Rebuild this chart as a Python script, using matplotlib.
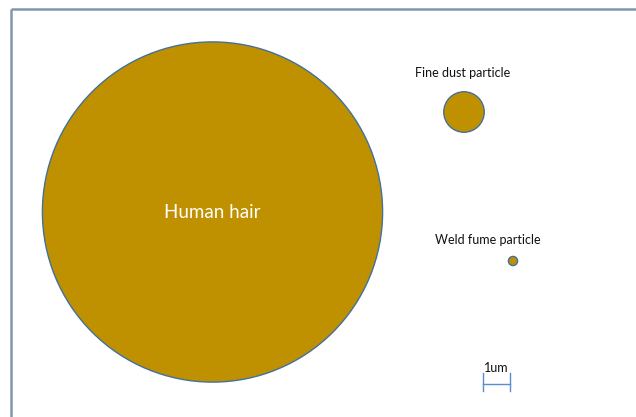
import matplotlib
matplotlib.use("Agg")
import matplotlib.pyplot as plt
from matplotlib.patches import Circle

names = ["Human hair", "Fine dust particle", "Weld fume particle"]
diameters_um = [12.6, 1.5, 0.34]
scale_um = 1.0
scale_label = "1um"

PX = 27.0  # pixels per um in the picture
W, H = 636, 417
FILL = "#BF9000"
EDGE = "#41719C"
FRAME = "#8196B0"

plt.rcParams["font.family"] = ["Lato", "DejaVu Sans"]

fig = plt.figure(figsize=(W / 100, H / 100), dpi=100)
ax = fig.add_axes([0, 0, 1, 1])
ax.set_xlim(0, W / PX)
ax.set_ylim(H / PX, 0)
ax.set_aspect("equal")
ax.axis("off")

# centres (um) and label anchors, layout only
centres = [(212.5 / PX, 212 / PX), (464 / PX, 112 / PX), (513 / PX, 261 / PX)]
for i, (name, d) in enumerate(zip(names, diameters_um)):
    cx, cy = centres[i]
    ax.add_patch(Circle((cx, cy), d / 2, facecolor=FILL, edgecolor=EDGE,
                        lw=1.0, zorder=2))
    if i == 0:
        ax.text(cx, cy, name, color="white", fontsize=13.5,
                ha="center", va="center", zorder=3)

ax.text(463 / PX, 73 / PX, names[1], fontsize=9, color="#111111",
        ha="center", va="center")
ax.text(488 / PX, 240 / PX, names[2], fontsize=9, color="#111111",
        ha="center", va="center")

# scale bar
x0, yb = 482.5 / PX, 384 / PX
ax.plot([x0, x0 + scale_um], [yb, yb], color="#5B8BD0", lw=1)
for xx in (x0, x0 + scale_um):
    ax.plot([xx, xx], [373 / PX, 391 / PX], color="#5B8BD0", lw=1)
ax.text(x0 + scale_um / 2, 368 / PX, scale_label, fontsize=9,
        color="#111111", ha="center", va="center")

# slide frame (top and left edges visible in the crop)
ax.plot([11 / PX, W / PX], [9 / PX, 9 / PX], color=FRAME, lw=1.8,
        solid_capstyle="butt")
ax.plot([11 / PX, 11 / PX], [9 / PX, H / PX], color=FRAME, lw=1.8,
        solid_capstyle="butt")

fig.savefig("out.png", dpi=100, facecolor="white")
